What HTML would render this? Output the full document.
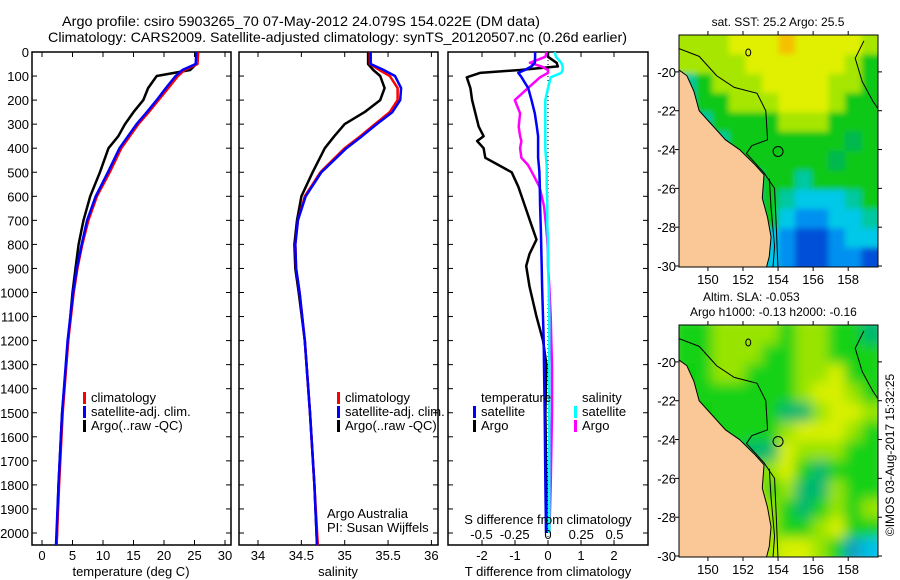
<!DOCTYPE html>
<html><head><meta charset="utf-8"><style>
html,body{margin:0;padding:0;background:#fff;}
svg{display:block;font-family:"Liberation Sans",sans-serif;}
</style></head><body>
<svg id="fig" width="900" height="580" viewBox="0 0 900 580" xmlns="http://www.w3.org/2000/svg">
<rect width="900" height="580" fill="#fff"/>
<text x="62" y="26" font-size="14" textLength="478" lengthAdjust="spacingAndGlyphs">Argo profile: csiro 5903265_70 07-May-2012 24.079S 154.022E (DM data)</text>
<text x="48" y="42" font-size="14" textLength="579" lengthAdjust="spacingAndGlyphs">Climatology: CARS2009. Satellite-adjusted climatology: synTS_20120507.nc (0.26d earlier)</text>
<g id="g1"></g>
<g id="g2"></g>
<g id="g3"></g>
<g id="m1"></g>
<g id="m2"></g>
<text x="778" y="26" font-size="12" text-anchor="middle">sat. SST: 25.2 Argo: 25.5</text>
<text x="703" y="301" font-size="12">Altim. SLA: -0.053</text>
<text x="690" y="316" font-size="12">Argo h1000: -0.13 h2000: -0.16</text>
<text transform="translate(894,455) rotate(-90)" font-size="12" text-anchor="middle">©IMOS 03-Aug-2017 15:32:25</text>
</svg>
<script>
const depthTS = [0,50,75,100,150,200,250,300,350,400,500,600,700,800,900,1000,1200,1500,1800,2050];
const tempClim = [25.6,25.5,23.4,22.3,20.7,19.1,17.5,15.8,14.4,13.0,11.1,9.0,7.6,6.6,5.8,5.2,4.3,3.4,2.8,2.4];
const tempSat  = [25.3,25.2,23.0,21.9,20.3,18.8,17.2,15.5,14.1,12.7,10.8,8.8,7.4,6.5,5.7,5.1,4.2,3.3,2.7,2.3];
const tempArgo = [25.4,25.3,24.3,18.8,17.4,16.6,15.0,13.6,12.5,10.9,9.5,7.9,6.8,6.0,5.5,5.0,4.3,3.3,2.7,2.4];
const salClim = [35.29,35.29,35.40,35.52,35.61,35.61,35.52,35.35,35.18,35.0,34.72,34.54,34.46,34.43,34.44,34.48,34.54,34.6,34.65,34.69];
const salSat  = [35.30,35.30,35.45,35.58,35.65,35.64,35.55,35.37,35.2,35.02,34.73,34.55,34.46,34.43,34.44,34.48,34.54,34.6,34.65,34.68];
const salArgo = [35.27,35.27,35.33,35.41,35.46,35.41,35.23,35.0,34.88,34.77,34.63,34.5,34.45,34.42,34.43,34.47,34.54,34.6,34.65,34.68];
const depthDiff = [0,20,45,60,75,87,105,150,200,255,310,350,370,400,440,470,500,560,640,720,780,840,890,975,1100,1200,1300,1500,1800,2000];
const tDiffArgo = [0,0,0.26,0.3,-0.85,-2.06,-2.46,-2.35,-2.3,-2.2,-2.1,-1.95,-2.15,-1.95,-1.9,-1.5,-1.1,-0.9,-0.7,-0.5,-0.35,-0.56,-0.66,-0.56,-0.35,-0.15,-0.05,-0.08,-0.05,-0.05];
const tDiffSat = [-0.39,-0.39,-0.4,-0.5,-0.7,-0.9,-0.8,-0.6,-0.5,-0.4,-0.34,-0.3,-0.3,-0.3,-0.3,-0.28,-0.26,-0.25,-0.24,-0.22,-0.21,-0.2,-0.19,-0.18,-0.15,-0.13,-0.12,-0.1,-0.08,-0.06];
const sDiffArgo = [-0.01,-0.02,-0.135,-0.05,0,0,-0.06,-0.15,-0.25,-0.21,-0.22,-0.21,-0.2,-0.21,-0.2,-0.15,-0.12,-0.065,-0.03,-0.015,-0.005,0,0,0.01,0.02,0.025,0.03,0.03,0.02,0.01];
const sDiffSat = [0.05,0.06,0.1,0.11,0.11,0.1,0.02,0.0,-0.02,-0.02,-0.02,-0.02,-0.02,-0.02,-0.015,-0.01,-0.01,-0.01,-0.005,-0.005,0,0,0,0.005,0.01,0.01,0.01,0.01,0.01,0.01];
const depthTicks = [0,100,200,300,400,500,600,700,800,900,1000,1100,1200,1300,1400,1500,1600,1700,1800,1900,2000];
const tempTicks = [0,5,10,15,20,25,30];
const salTicks = ["34","34.5","35","35.5","36"];
const tdTicks = ["-2","-1","0","1","2"];
const sdTicks = ["-0.5","-0.25","0","0.25","0.5"];
const sstGrid = [
"lllyyyoyyyyl","llllyyyyyylg","Lglllyyyyllg","Lgglllyyylgg",
"LLgggglllggg","LLtgggggggGg","LLLggggggGgg","LLLLtggtgggg",
"LLLLtgtccctg","LLLLtgcbbcct","LLLLtcbBBbcc","LLLLccbBBbbB"];
const slaGrid = [
"ggllllgllggt","gglllggllggg","Lgllgggllygg","Lgggggglyylg",
"LLggggttlyyl","LLgggglyyylg","LLLgttylllgg","LLLLglygtggg",
"LLLLyglttlgg","LLLLylgtglgl","LLLLylgglygg","LLLLylyylgbc"];

const NS="http://www.w3.org/2000/svg";
function mk(parent, tag, attrs){const e=document.createElementNS(NS,tag);for(const k in attrs)e.setAttribute(k,attrs[k]);parent.appendChild(e);return e;}
const yD = d => 52 + d*0.2405;
const TOP=52, BOT=545;

function frame(g, x0, x1, xticks){
  const r = mk(g,'rect',{x:x0,y:TOP,width:x1-x0,height:BOT-TOP,fill:'none',stroke:'#000','stroke-width':1.5});
  
  
  depthTicks.forEach(d=>{
    mk(g,'line',{x1:x0,x2:x0+5,y1:yD(d),y2:yD(d),stroke:'#000'});
    mk(g,'line',{x1:x1,x2:x1-5,y1:yD(d),y2:yD(d),stroke:'#000'});
  });
  xticks.forEach(x=>{
    mk(g,'line',{x1:x,x2:x,y1:TOP,y2:TOP+5,stroke:'#000'});
    mk(g,'line',{x1:x,x2:x,y1:BOT,y2:BOT-5,stroke:'#000'});
  });
}
function series(g, xs, ds, sx, color, name, w){
  const p = ds.map((d,i)=>sx(xs[i]).toFixed(1)+','+yD(d).toFixed(1)).join(' ');
  const l = mk(g,'polyline',{points:p,fill:'none',stroke:color,'stroke-width':w||2.5,'stroke-linejoin':'round'});
  
  
}
function txt(g,x,y,s,anchor,size){const t=mk(g,'text',{x:x,y:y,'font-size':size||13,'text-anchor':anchor||'start'});t.textContent=s;return t;}
function legendRow(g,x,y,color,label){
  mk(g,'rect',{x:x,y:y-10,width:3,height:12,fill:color});
  const t=txt(g,x+8,y,label);
  
  
}

// Panel 1: temperature
const g1=document.getElementById('g1');
const sxT = t => 42 + t*6.1;
frame(g1,32,231,tempTicks.map(sxT));
depthTicks.forEach(d=>{const t=txt(g1,29,yD(d)+5,String(d),'end');});
tempTicks.forEach(v=>{const t=txt(g1,sxT(v),560,String(v),'middle');});
txt(g1,131,576,'temperature (deg C)','middle');
series(g1,tempArgo,depthTS,sxT,'#000','argo-temperature-line');
series(g1,tempClim,depthTS,sxT,'#f00','climatology-temperature-line');
series(g1,tempSat,depthTS,sxT,'#00f','satellite-temperature-line');
legendRow(g1,83,402,'#f00','climatology');
legendRow(g1,83,416,'#00f','satellite-adj. clim.');
legendRow(g1,83,430,'#000','Argo(..raw -QC)');

// Panel 2: salinity
const g2=document.getElementById('g2');
const sxS = s => 258 + (s-34)*86.7;
frame(g2,239,438,salTicks.map(v=>sxS(parseFloat(v))));
salTicks.forEach(v=>{const t=txt(g2,sxS(parseFloat(v)),560,v,'middle');});
txt(g2,338,576,'salinity','middle');
series(g2,salArgo,depthTS,sxS,'#000','argo-salinity-line');
series(g2,salClim,depthTS,sxS,'#f00','climatology-salinity-line');
series(g2,salSat,depthTS,sxS,'#00f','satellite-salinity-line');
legendRow(g2,337,402,'#f00','climatology');
legendRow(g2,337,416,'#00f','satellite-adj. clim.');
legendRow(g2,337,430,'#000','Argo(..raw -QC)');
txt(g2,327,518,'Argo Australia');
txt(g2,327,532,'PI: Susan Wijffels');

// Panel 3: differences
const g3=document.getElementById('g3');
const sxTd = v => 548 + v*33;
const sxSd = v => 548 + v*133;
frame(g3,448,648,tdTicks.map(v=>sxTd(parseFloat(v))));
mk(g3,'line',{x1:548,x2:548,y1:TOP,y2:BOT,stroke:'#000','stroke-dasharray':'1,3'});
series(g3,tDiffArgo,depthDiff,sxTd,'#000','argo-t-diff-line');
series(g3,sDiffArgo,depthDiff,sxSd,'#f0f','argo-s-diff-line');
series(g3,sDiffSat,depthDiff,sxSd,'#0ff','satellite-s-diff-line');
series(g3,tDiffSat,depthDiff,sxTd,'#00f','satellite-t-diff-line');
tdTicks.forEach(v=>{const t=txt(g3,sxTd(parseFloat(v)),560,v,'middle');});
sdTicks.forEach(v=>{const t=txt(g3,sxSd(parseFloat(v)),539,v,'middle');});
txt(g3,548,524,'S difference from climatology','middle');
txt(g3,548,576,'T difference from climatology','middle');
txt(g3,481,402,'temperature');
txt(g3,582,402,'salinity');
legendRow(g3,473,416,'#00f','satellite');
legendRow(g3,473,430,'#000','Argo');
legendRow(g3,574,416,'#0ff','satellite');
legendRow(g3,574,430,'#f0f','Argo');

// Maps
const colors = {o:'#f4c000',y:'#e0f000',l:'#a6e600',g:'#10c814',G:'#00b850',t:'#00c8a0',c:'#00c8e8',b:'#0090f0',B:'#0050d8',L:'#00c8a0'};
const colors2 = {o:'#f2b000',y:'#d8f000',l:'#98e400',g:'#14d214',G:'#00b850',t:'#00b870',c:'#00c0e8',b:'#10a0c0',B:'#0050d8',L:'#10d010'};
const coast = [[148.35,-19.9],[148.8,-20.2],[149.2,-21],[149.5,-22],[150.3,-22.8],[151,-23.5],[151.8,-24],[152.7,-24.8],[153.2,-25.3],[153.1,-26.5],[153.4,-27.5],[153.6,-28.5],[153.5,-29.5],[153.3,-30.2],[148.35,-30.2]];
const contourA = [[148.35,-18.8],[149.5,-19.2],[150.5,-20.2],[151.5,-20.8],[152.8,-21.1],[153.3,-22],[153.4,-23.5],[152.5,-23.8],[152.2,-24.2],[153.2,-25.2],[153.8,-26],[153.9,-28],[154,-30.2]];
const contourB = [[153.5,-25.5],[153.6,-27],[153.8,-29],[153.7,-30.2]];
const contourC = [[158.9,-18.4],[158.4,-19.3],[158.8,-20.5],[159.4,-21.5],[159.7,-21.9]];
function drawMap(id, y0, grid, pal, blur){
  const g=document.getElementById(id);
  const X0=679,X1=878,Y1=y0+232;
  const lon0=148.35,lon1=159.7,lat0=-18.1,lat1=-30.05;
  const px = lon => X0 + (lon-lon0)/(lon1-lon0)*(X1-X0);
  const py = lat => y0 + (lat0-lat)/(lat0-lat1)*(Y1-y0);
  const clip = mk(g,'clipPath',{id:id+'c'}); mk(clip,'rect',{x:X0,y:y0,width:X1-X0,height:Y1-y0});
  const f=mk(g,'filter',{id:id+'f'});mk(f,'feGaussianBlur',{stdDeviation:blur});
  const cg = mk(g,'g',{'clip-path':'url(#'+id+'c)'});
  const fg = mk(cg,'g',{filter:'url(#'+id+'f)'});
  const cw=(X1-X0)/12, ch=(Y1-y0)/12;
  grid.forEach((row,r)=>{[...row].forEach((c,k)=>{
    const cell=mk(fg,'rect',{x:X0+k*cw-(k==0?8:0),y:y0+r*ch-(r==0?8:0),width:cw+0.5+(k==0||k==11?8:0),height:ch+0.5+(r==0||r==11?8:0),fill:pal[c]});
    
    
  });});
  const land=mk(cg,'polygon',{points:coast.map(p=>px(p[0])+','+py(p[1])).join(' '),fill:'#f9c896',stroke:'#000','stroke-width':1});
  
  
  [contourA,contourB,contourC].forEach(c=>mk(cg,'polyline',{points:c.map(p=>px(p[0])+','+py(p[1])).join(' '),fill:'none',stroke:'#000','stroke-width':1}));
  mk(cg,'circle',{cx:px(154),cy:py(-24.1),r:5,fill:'none',stroke:'#000'});
  mk(cg,'ellipse',{cx:px(152.3),cy:py(-19),rx:2.5,ry:3.5,fill:'none',stroke:'#000'});
  mk(g,'rect',{x:X0,y:y0,width:X1-X0,height:Y1-y0,fill:'none',stroke:'#000'});
  [150,152,154,156,158].forEach(l=>{
    mk(g,'line',{x1:px(l),x2:px(l),y1:y0,y2:y0-4,stroke:'#000'});
    mk(g,'line',{x1:px(l),x2:px(l),y1:Y1,y2:Y1+4,stroke:'#000'});
    const t=txt(g,px(l),Y1+17,String(l),'middle');
    
    
  });
  [-20,-22,-24,-26,-28,-30].forEach(l=>{
    mk(g,'line',{x1:X0,x2:X0-4,y1:py(l),y2:py(l),stroke:'#000'});
    mk(g,'line',{x1:X1,x2:X1+4,y1:py(l),y2:py(l),stroke:'#000'});
    const t=txt(g,676,py(l)+5,String(l),'end');
    
    
  });
}
drawMap('m1',35,sstGrid,colors,3);
drawMap('m2',325,slaGrid,colors2,6);
</script>
</body></html>
